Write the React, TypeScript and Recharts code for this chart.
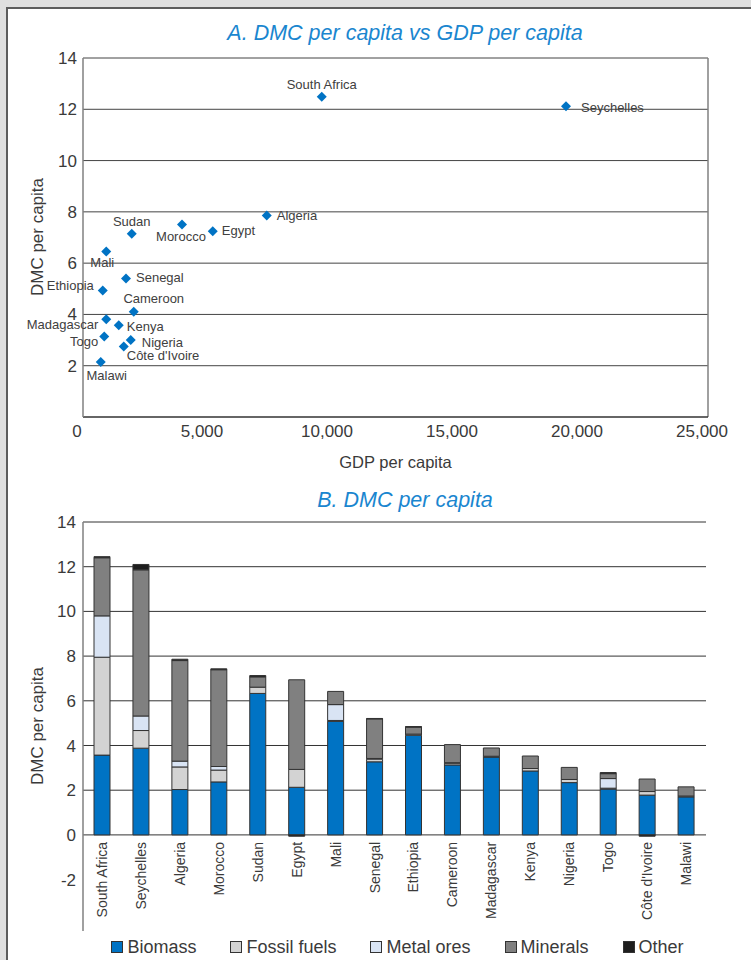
import React from 'react';
import {
  ScatterChart,
  Scatter,
  XAxis,
  YAxis,
  CartesianGrid,
  ReferenceLine,
  BarChart,
  Bar,
  LabelList,
} from 'recharts';

// ---------- data ----------
const countries = [
  'South Africa', 'Seychelles', 'Algeria', 'Morocco', 'Sudan', 'Egypt', 'Mali', 'Senegal',
  'Ethiopia', 'Cameroon', 'Madagascar', 'Kenya', 'Nigeria', 'Togo', "Côte d'Ivoire", 'Malawi',
];

const gdpPerCapita = [9550, 19320, 7350, 3960, 1950, 5190, 930, 1720, 790, 2030, 930, 1430, 1910, 850, 1630, 710];
const dmcPerCapita = [12.49, 12.12, 7.86, 7.51, 7.15, 7.24, 6.45, 5.4, 4.93, 4.1, 3.81, 3.58, 3.0, 3.14, 2.75, 2.14];

const biomass = [3.57, 3.88, 2.03, 2.37, 6.33, 2.13, 5.08, 3.27, 4.46, 3.13, 3.48, 2.86, 2.34, 2.05, 1.78, 1.7];
const fossilFuels = [4.38, 0.79, 1.01, 0.53, 0.28, 0.8, 0.04, 0.12, 0.05, 0.08, 0.04, 0.11, 0.14, 0.04, 0.16, 0.04];
const metalOres = [1.85, 0.65, 0.26, 0.16, 0, 0, 0.71, 0.03, 0, 0.02, 0, 0, 0, 0.43, 0, 0];
const minerals = [2.6, 6.54, 4.5, 4.33, 0.46, 4.01, 0.59, 1.77, 0.31, 0.81, 0.37, 0.56, 0.54, 0.22, 0.56, 0.41];
const other = [0.05, 0.24, 0.06, 0.04, 0.06, -0.06, 0, 0.02, 0.03, 0, 0, 0, 0, 0.05, -0.06, 0];

const xTicksA = [0, 5000, 10000, 15000, 20000, 25000];
const yTicksA = [2, 4, 6, 8, 10, 12, 14];
const yTicksB = [-2, 0, 2, 4, 6, 8, 10, 12, 14];
const gridValuesB = [0, 2, 4, 6, 8, 10, 12, 14];

const titleA = 'A. DMC per capita vs GDP per capita';
const titleB = 'B. DMC per capita';
const yTitle = 'DMC per capita';
const xTitle = 'GDP per capita';

const seriesB = [
  { key: 'biomass', label: 'Biomass', values: biomass },
  { key: 'fossil', label: 'Fossil fuels', values: fossilFuels },
  { key: 'metal', label: 'Metal ores', values: metalOres },
  { key: 'minerals', label: 'Minerals', values: minerals },
  { key: 'other', label: 'Other', values: other },
];

// ---------- styles ----------
const FONT = '"Liberation Sans", Arial, Helvetica, sans-serif';
const TEXT = '#3a3a3a';
const BLUE = '#0073c4';
const TITLE_BLUE = '#1a86cf';
const seriesColors: Record<string, string> = {
  biomass: BLUE,
  fossil: '#d3d3d3',
  metal: '#d9e4f4',
  minerals: '#808080',
  other: '#1e1e1e',
};

const labelPlacement: Record<string, { dx: number; dy: number; anchor: 'start' | 'middle' | 'end' }> = {
  'South Africa': { dx: 0, dy: -12, anchor: 'middle' },
  Seychelles: { dx: 15, dy: 1, anchor: 'start' },
  Algeria: { dx: 10, dy: 0, anchor: 'start' },
  Egypt: { dx: 9, dy: -1, anchor: 'start' },
  Morocco: { dx: -1, dy: 12, anchor: 'middle' },
  Sudan: { dx: 0, dy: -12, anchor: 'middle' },
  Mali: { dx: -4, dy: 11, anchor: 'middle' },
  Senegal: { dx: 10, dy: -1, anchor: 'start' },
  Ethiopia: { dx: -9, dy: -5, anchor: 'end' },
  Cameroon: { dx: 20, dy: -13, anchor: 'middle' },
  Madagascar: { dx: -8, dy: 5, anchor: 'end' },
  Kenya: { dx: 8, dy: 1, anchor: 'start' },
  Togo: { dx: -6, dy: 5, anchor: 'end' },
  Nigeria: { dx: 11, dy: 2, anchor: 'start' },
  "Côte d'Ivoire": { dx: 3, dy: 9, anchor: 'start' },
  Malawi: { dx: 6, dy: 13, anchor: 'middle' },
};

// ---------- derived tables ----------
const scatterData = countries.map((name, i) => ({ name, gdp: gdpPerCapita[i], dmc: dmcPerCapita[i] }));
const barData = countries.map((name, i) => {
  const row: Record<string, any> = { name };
  seriesB.forEach((s) => {
    row[s.key] = s.values[i];
  });
  return row;
});

const fmtThousands = (v: number) => v.toLocaleString('en-US');

// ---------- custom renderers ----------
const PointShape = (props: any) => {
  const cx = Number(props.cx);
  const cy = Number(props.cy);
  const name = props.payload?.name ?? props.name;
  const r = 5;
  const pl = labelPlacement[name] || { dx: 8, dy: 0, anchor: 'start' };
  return (
    <g>
      <path d={`M${cx},${cy - r}L${cx + r},${cy}L${cx},${cy + r}L${cx - r},${cy}Z`} fill={BLUE} />
      <text
        x={cx + pl.dx}
        y={cy + pl.dy}
        textAnchor={pl.anchor}
        dominantBaseline="central"
        fontSize={13}
        fontFamily={FONT}
        fill="#404040"
      >
        {name}
      </text>
    </g>
  );
};

const XTickA = (props: any) => (
  <text
    x={Number(props.x) - 6}
    y={Number(props.y)}
    dy="0.71em"
    textAnchor="middle"
    fontSize={17}
    fontFamily={FONT}
    fill={TEXT}
  >
    {fmtThousands(props.payload.value)}
  </text>
);

const yTickStyle = { fill: TEXT, fontSize: 17, fontFamily: FONT };

const CategoryLabel = (props: any) => {
  const { x, y, width, height, value } = props;
  const cx = Number(x) + Number(width) / 2;
  const top = Number(y) + Number(height) + 7;
  return (
    <text
      x={cx}
      y={top}
      transform={`rotate(-90 ${cx} ${top})`}
      textAnchor="end"
      dominantBaseline="central"
      fontSize={14}
      fontFamily={FONT}
      fill={TEXT}
    >
      {value}
    </text>
  );
};

const abs = (style: React.CSSProperties): React.CSSProperties => ({ position: 'absolute', ...style });

const titleStyle = (top: number): React.CSSProperties =>
  abs({
    left: 0,
    width: 810,
    top,
    textAlign: 'center',
    fontSize: 21.5,
    lineHeight: '22px',
    fontStyle: 'italic',
    color: TITLE_BLUE,
  });

const yTitleStyle = (centerY: number): React.CSSProperties =>
  abs({
    left: 38 - 80,
    width: 160,
    top: centerY - 9,
    textAlign: 'center',
    fontSize: 17,
    lineHeight: '18px',
    color: TEXT,
    transform: 'rotate(-90deg)',
    transformOrigin: '50% 50%',
  });

export default function App() {
  return (
    <div
      style={abs({
        left: 0,
        top: 0,
        width: 751,
        height: 960,
        overflow: 'hidden',
        background: '#dfdfdf',
        fontFamily: FONT,
      })}
    >
      <div
        style={abs({
          left: 6,
          top: 7,
          width: 800,
          height: 1000,
          background: '#ffffff',
          borderTop: '2px solid #5c5c5c',
          borderLeft: '2px solid #5c5c5c',
        })}
      />

      {/* Titles */}
      <div style={titleStyle(22)}>{titleA}</div>
      <div style={titleStyle(489)}>{titleB}</div>

      {/* Chart A */}
      <div style={abs({ left: 0, top: 0 })}>
        <ScatterChart width={751} height={480} margin={{ top: 58, right: 43, bottom: 13, left: 23 }}>
          <CartesianGrid vertical={false} stroke="#444444" horizontalValues={yTicksA} />
          <XAxis
            type="number"
            dataKey="gdp"
            domain={[0, 25000]}
            ticks={xTicksA}
            height={50}
            tickLine={false}
            tickSize={0}
            tickMargin={8}
            axisLine={{ stroke: '#333333', strokeWidth: 1.5 }}
            tick={XTickA}
          />
          <YAxis
            type="number"
            dataKey="dmc"
            domain={[0, 14]}
            ticks={yTicksA}
            width={60}
            tickLine={false}
            tickSize={0}
            tickMargin={6}
            axisLine={{ stroke: '#808080', strokeWidth: 1.5 }}
            tick={yTickStyle}
          />
          <ReferenceLine x={25000} stroke="#808080" strokeWidth={1.5} />
          <Scatter data={scatterData} shape={PointShape} isAnimationActive={false} />
        </ScatterChart>
      </div>

      {/* Axis titles A */}
      <div style={yTitleStyle(237)}>{yTitle}</div>
      <div
        style={abs({
          left: 83,
          width: 625,
          top: 462 - 9,
          textAlign: 'center',
          fontSize: 16.5,
          lineHeight: '18px',
          color: TEXT,
        })}
      >
        {xTitle}
      </div>

      {/* Chart B */}
      <div style={abs({ left: 0, top: 470 })}>
        <BarChart
          width={751}
          height={490}
          data={barData}
          margin={{ top: 52, right: 45, bottom: 29, left: 23 }}
          stackOffset="sign"
          barSize={16}
        >
          <CartesianGrid vertical={false} stroke="#333333" horizontalValues={gridValuesB} />
          <XAxis
            dataKey="name"
            height={0}
            tick={false}
            tickLine={false}
            axisLine={{ stroke: '#444444', strokeWidth: 1.5 }}
          />
          <YAxis
            type="number"
            domain={[-4.3, 14]}
            ticks={yTicksB}
            width={60}
            tickLine={false}
            tickSize={0}
            tickMargin={7}
            axisLine={{ stroke: '#808080', strokeWidth: 1.5 }}
            tick={yTickStyle}
            allowDataOverflow
          />
          <YAxis
            yAxisId="right"
            orientation="right"
            type="number"
            domain={[-4.3, 14]}
            width={0}
            tick={false}
            tickLine={false}
            axisLine={{ stroke: '#808080', strokeWidth: 1.5 }}
            allowDataOverflow
          />
          {seriesB.map((s) => (
            <Bar
              key={s.key}
              dataKey={s.key}
              name={s.label}
              stackId="dmc"
              fill={seriesColors[s.key]}
              stroke="#333333"
              strokeWidth={1}
              isAnimationActive={false}
            >
              {s.key === 'biomass' ? <LabelList dataKey="name" content={CategoryLabel} /> : null}
            </Bar>
          ))}
        </BarChart>
      </div>

      {/* Axis title B */}
      <div style={yTitleStyle(726)}>{yTitle}</div>

      {/* Legend B */}
      <div
        style={abs({
          left: 0,
          width: 795,
          top: 938,
          display: 'flex',
          justifyContent: 'center',
          alignItems: 'center',
          gap: 34,
          fontSize: 18,
          lineHeight: '18px',
          color: TEXT,
        })}
      >
        {seriesB.map((s) => (
          <div key={s.key} style={{ display: 'flex', alignItems: 'center' }}>
            <span
              style={{
                display: 'inline-block',
                width: 10,
                height: 10,
                background: seriesColors[s.key],
                border: '1px solid #333333',
                marginRight: 4,
              }}
            />
            <span>{s.label}</span>
          </div>
        ))}
      </div>
    </div>
  );
}
